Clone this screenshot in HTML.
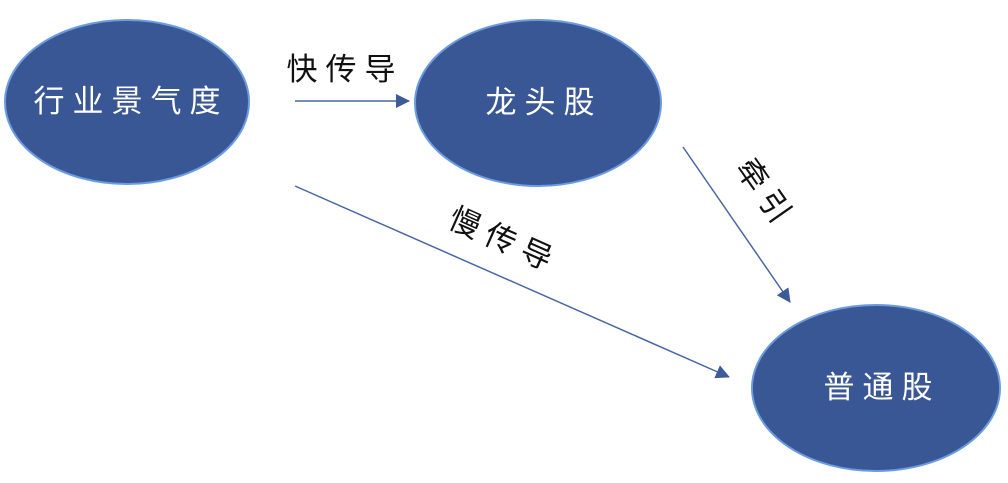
<!DOCTYPE html>
<html><head><meta charset="utf-8"><style>
html,body{margin:0;padding:0;background:#fff;width:1008px;height:483px;overflow:hidden}
svg text{font-family:"Liberation Sans","Noto Sans CJK SC",sans-serif}
</style></head><body>
<svg width="1008" height="483" viewBox="0 0 1008 483" xmlns="http://www.w3.org/2000/svg">
<defs>
<marker id="b" markerWidth="14" markerHeight="14" refX="13" refY="7" orient="auto" markerUnits="userSpaceOnUse" viewBox="0 0 14 14"><path d="M0,0 L14,7 L0,14 z" fill="#3D5B99"/></marker></defs>
<g fill="#3A5795" stroke="#6B9BE0" stroke-width="2">
<ellipse cx="127" cy="102" rx="122" ry="82"/>
<ellipse cx="538" cy="103" rx="123" ry="83"/>
<ellipse cx="876" cy="388" rx="124" ry="83"/>
</g>
<g fill="#fff" font-size="31" text-anchor="middle" letter-spacing="8">
<text x="131" y="112">行业景气度</text>
<text x="544" y="113">龙头股</text>
<text x="882" y="398">普通股</text>
</g>
<g stroke="#4A66A3" stroke-width="1.5" fill="none">
<line x1="295" y1="101" x2="409" y2="101" marker-end="url(#b)"/>
<line x1="295" y1="186" x2="729" y2="377" marker-end="url(#b)"/>
<line x1="683" y1="147" x2="790" y2="302" marker-end="url(#b)"/>
</g>
<g fill="#111" font-size="31" text-anchor="middle" letter-spacing="8">
<text x="345" y="80">快传导</text>
<text x="0" y="0" transform="translate(500,250) rotate(24)">慢传导</text>
<text x="0" y="0" transform="translate(757,200) rotate(55)">牵引</text>
</g>
</svg>
</body></html>
